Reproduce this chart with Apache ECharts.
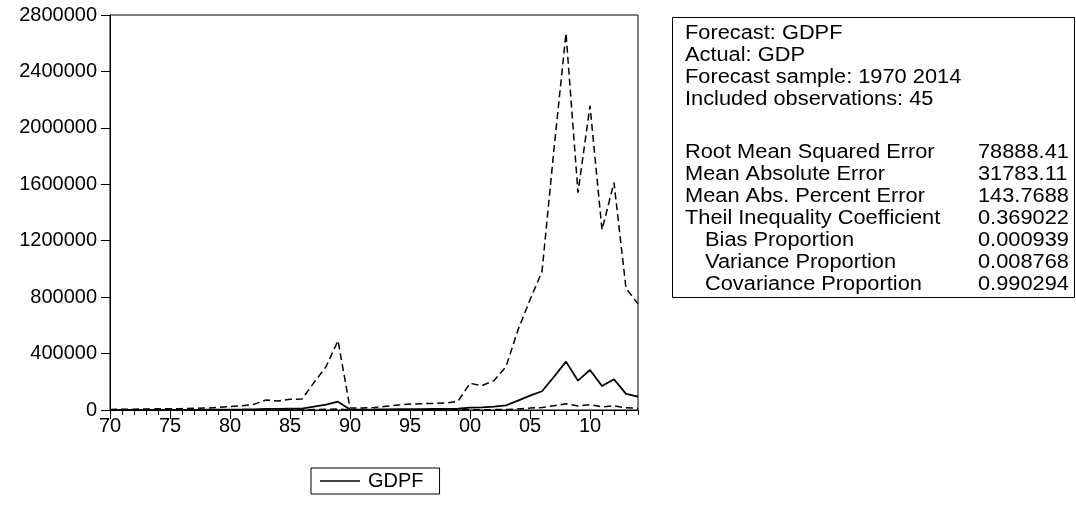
<!DOCTYPE html>
<html>
<head>
<meta charset="utf-8">
<script src="https://cdn.jsdelivr.net/npm/echarts@6/dist/echarts.min.js"></script>
<style>
  html, body { margin: 0; padding: 0; background: #fff; }
  #main { width: 1076px; height: 507px; }
</style>
</head>
<body>
<div id="main"></div>
<script>
// years of the forecast sample
var years = ['1970','1971','1972','1973','1974','1975','1976','1977','1978','1979',
             '1980','1981','1982','1983','1984','1985','1986','1987','1988','1989',
             '1990','1991','1992','1993','1994','1995','1996','1997','1998','1999',
             '2000','2001','2002','2003','2004','2005','2006','2007','2008','2009',
             '2010','2011','2012','2013','2014'];

// forecast GDPF
var gdpf = [600, 700, 800, 900, 1000, 1100, 1300, 1500, 1800, 2200,
            2800, 3500, 4500, 8000, 7500, 9000, 10000, 24000, 38000, 59000,
            3000, 3200, 3500, 4500, 5500, 6000, 6500, 7000, 7500, 9000,
            17000, 19000, 24000, 33000, 66000, 102000, 133000, 236000, 343000, 208000,
            284000, 170000, 218000, 114000, 95000];

// upper band (+2 S.E.)
var upper = [4000, 5000, 6000, 7000, 8000, 9000, 10000, 12000, 14000, 18000,
             24000, 30000, 40000, 71000, 64000, 76000, 78000, 194000, 307000, 492000,
             14000, 15000, 17000, 26000, 35000, 42000, 45000, 46000, 50000, 62000,
             189000, 173000, 208000, 307000, 568000, 781000, 981000, 1850000, 2671000, 1541000,
             2156000, 1277000, 1612000, 863000, 752000];

// lower band (-2 S.E.)
var lower = [90, 100, 110, 120, 130, 130, 170, 190, 230, 270,
             330, 410, 510, 900, 880, 1070, 1280, 2970, 4700, 7100,
             640, 680, 720, 780, 860, 860, 940, 1070, 1120, 1310,
             1530, 2090, 2770, 3550, 7670, 13300, 18000, 30100, 44000, 28100,
             37400, 22600, 29500, 15100, 12000];

// forecast statistics box
var statTop = ['Forecast: GDPF', 'Actual: GDP', 'Forecast sample: 1970 2014', 'Included observations: 45'];
var statNames = ['Root Mean Squared Error', 'Mean Absolute Error', 'Mean Abs. Percent Error', 'Theil Inequality Coefficient'];
var statSub = ['Bias Proportion', 'Variance Proportion', 'Covariance Proportion'];
var statValues = ['78888.41', '31783.11', '143.7688', '0.369022', '0.000939', '0.008768', '0.990294'];

var FONT = 'Liberation Sans, Arial, sans-serif';
var FS = 20;
var SX = 1.09; // the box text is a bit wider than plain Arial

var chart = echarts.init(document.getElementById('main'));

function boxText(x, y, lines) {
    return {
        type: 'text', x: x, y: y, scaleX: SX,
        style: { text: lines.join('\n'), font: FS + 'px ' + FONT, fill: '#000', lineHeight: 22 }
    };
}

var option = {
    animation: false,
    backgroundColor: '#fff',
    textStyle: { fontFamily: FONT, color: '#000' },
    grid: {
        left: 110, right: 438, top: 15, bottom: 97,
        show: true, borderColor: '#000', borderWidth: 1
    },
    legend: {
        data: [{ name: 'GDPF', icon: 'path://M0,0 L40,0 L40,1.5 L0,1.5 Z' }],
        left: 311, top: 468,
        borderColor: '#000', borderWidth: 1,
        padding: [3, 16, 3, 9],
        itemWidth: 40, itemHeight: 10,
        textStyle: { fontFamily: FONT, fontSize: FS, color: '#000', padding: [0, 0, 0, 3] }
    },
    xAxis: [
        {
            type: 'category', data: years, boundaryGap: false,
            axisLine: { lineStyle: { color: '#000', width: 1 } },
            axisTick: { interval: 0, length: 5, lineStyle: { color: '#000' } },
            axisLabel: { show: false },
            splitLine: { show: false }
        },
        {
            type: 'category', data: years, boundaryGap: false, position: 'bottom',
            axisLine: { show: false },
            axisTick: {
                length: 9, lineStyle: { color: '#000' },
                interval: function (i) { return i % 5 === 0; }
            },
            axisLabel: {
                interval: function (i) { return i % 5 === 0; },
                formatter: function (v) { return v.slice(2); },
                fontFamily: FONT, fontSize: FS, color: '#000', margin: 6
            },
            splitLine: { show: false }
        }
    ],
    yAxis: {
        type: 'value', min: 0, max: 2800000, interval: 400000,
        axisLine: { show: true, lineStyle: { color: '#000' } },
        axisTick: { show: true, length: 9, lineStyle: { color: '#000' } },
        axisLabel: {
            fontFamily: FONT, fontSize: FS, color: '#000', margin: 13,
            formatter: function (v) { return String(v); }
        },
        splitLine: { show: false }
    },
    series: [
        {
            name: 'upper', type: 'line', data: upper, xAxisIndex: 0,
            symbol: 'none', silent: true,
            lineStyle: { color: '#000', width: 1.5, type: [7, 4] }
        },
        {
            name: 'GDPF', type: 'line', data: gdpf, xAxisIndex: 0,
            symbol: 'none', itemStyle: { color: '#000' },
            lineStyle: { color: '#000', width: 1.8 }
        },
        {
            name: 'lower', type: 'line', data: lower, xAxisIndex: 0,
            symbol: 'none', silent: true,
            lineStyle: { color: '#000', width: 1.5, type: [7, 4] }
        }
    ],
    graphic: [
        {
            type: 'rect',
            shape: { x: 672.5, y: 17.5, width: 402, height: 280 },
            style: { fill: '#fff', stroke: '#000', lineWidth: 1 }
        },
        boxText(685, 22, statTop),
        boxText(685, 141, statNames),
        boxText(705, 229, statSub),
        boxText(978, 141, statValues)
    ]
};

chart.setOption(option);
</script>
</body>
</html>
